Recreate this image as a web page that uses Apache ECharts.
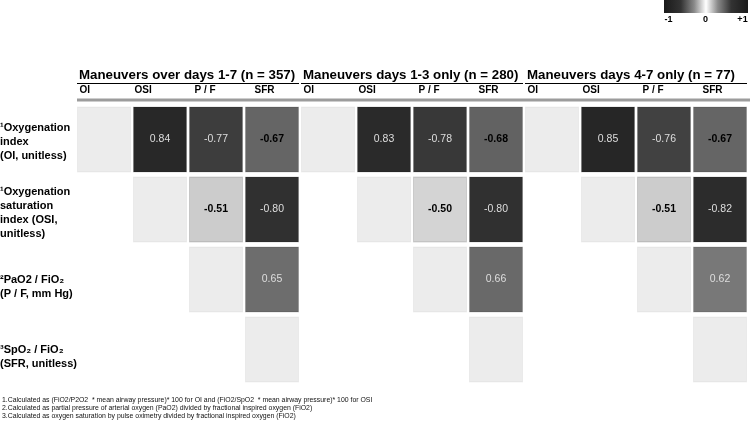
<!DOCTYPE html>
<html>
<head>
<meta charset="utf-8">
<script src="https://cdn.jsdelivr.net/npm/echarts@6/dist/echarts.min.js"></script>
<style>
html,body{margin:0;padding:0;background:#fff;}
#chart{width:750px;height:424px;}
</style>
</head>
<body>
<div id="chart"></div>
<script>
// ---- data ----
const groups = ['Maneuvers over days 1-7 (n = 357)', 'Maneuvers days 1-3 only (n = 280)', 'Maneuvers days 4-7 only (n = 77)'];
const measures = ['OI', 'OSI', 'P / F', 'SFR'];
const rowLabels = [
  '¹Oxygenation\nindex\n(OI, unitless)',
  '¹Oxygenation\nsaturation\nindex (OSI,\nunitless)',
  '²PaO2 / FiO₂\n(P / F, mm Hg)',
  '³SpO₂ / FiO₂\n(SFR, unitless)'
];
// [row, column, correlation]
const corrDays1to7 = [[0, 1, 0.84], [0, 2, -0.77], [0, 3, -0.67], [1, 2, -0.51], [1, 3, -0.80], [2, 3, 0.65]];
const corrDays1to3 = [[0, 1, 0.83], [0, 2, -0.78], [0, 3, -0.68], [1, 2, -0.50], [1, 3, -0.80], [2, 3, 0.66]];
const corrDays4to7 = [[0, 1, 0.85], [0, 2, -0.76], [0, 3, -0.67], [1, 2, -0.51], [1, 3, -0.82], [2, 3, 0.62]];
const legendTicks = ['-1', '0', '+1'];
const footnotes = [
  '1.Calculated as (FiO2/P2O2  * mean airway pressure)* 100 for OI and (FiO2/SpO2  * mean airway pressure)* 100 for OSI',
  '2.Calculated as partial pressure of arterial oxygen (PaO2) divided by fractional inspired oxygen (FiO2)',
  '3.Calculated as oxygen saturation by pulse oximetry divided by fractional inspired oxygen (FiO2)'
];

// ---- build ----
const FONT = "'Liberation Sans', Arial, sans-serif";
const groupData = [corrDays1to7, corrDays1to3, corrDays4to7];
const xCats = [];
groups.forEach((g, gi) => measures.forEach(m => xCats.push(gi + '|' + m)));

const corrItems = [];
groupData.forEach((arr, gi) => {
  arr.forEach(([r, c, v]) => {
    const dark = !(v < 0 && v > -0.7);
    corrItems.push({
      value: [gi * measures.length + c, r, v],
      label: dark ? { color: '#dedede', fontWeight: 'normal' } : { color: '#000', fontWeight: 'bold' }
    });
  });
});
const diagItems = [];
groups.forEach((g, gi) => measures.forEach((m, i) => diagItems.push([gi * measures.length + i, i])));

// grayscale ramp, -1 .. +1 in steps of 0.1
const half = ['#141414', '#1c1c1c', '#303030', '#5a5a5a', '#808080', '#d4d4d4', '#e2e2e2', '#e8e8e8', '#ececec', '#eeeeee'];
const ramp = half.concat(['#f0f0f0']).concat(half.slice().reverse());

const chart = echarts.init(document.getElementById('chart'), null, { renderer: 'canvas' });
const option = {
  backgroundColor: '#fff',
  animation: false,
  textStyle: { fontFamily: FONT },
  grid: { left: 76, top: 104.5, width: 672, height: 280, containLabel: false, outerBoundsMode: 'none' },
  xAxis: { type: 'category', data: xCats, show: false },
  yAxis: {
    type: 'category', data: rowLabels, inverse: true, show: false
  },
  visualMap: {
    show: false, type: 'continuous', min: -1, max: 1, dimension: 2, seriesIndex: 0,
    inRange: { color: ramp }
  },
  series: [
    {
      type: 'scatter', data: corrItems, symbol: 'rect', symbolSize: [53, 65],
      itemStyle: { opacity: 1, borderColor: 'rgba(0,0,0,0.15)', borderWidth: 1 },
      label: { show: true, position: 'inside', fontFamily: FONT, fontSize: 10.5,
        formatter: p => p.value[2].toFixed(2) },
      z: 3
    },
    {
      type: 'scatter', data: diagItems, symbol: 'rect', symbolSize: [53, 65],
      itemStyle: { color: '#ececec', opacity: 1, borderColor: 'rgba(0,0,0,0.05)', borderWidth: 1 },
      z: 2
    }
  ]
};
chart.setOption(option);

// ---- headers, row labels, legend, footnotes ----
const graphics = [];
const band = 672 / xCats.length;
const labelShift = [2, 1, 5, 9];
groups.forEach((g, gi) => {
  const firstX = chart.convertToPixel({ xAxisIndex: 0 }, gi * measures.length) - band / 2;
  const lastX = chart.convertToPixel({ xAxisIndex: 0 }, (gi + 1) * measures.length - 1) + band / 2;
  graphics.push({ type: 'text', left: firstX + 3, top: 69,
    style: { text: g, font: 'bold 13.3px ' + FONT, fill: '#000' } });
  graphics.push({ type: 'line', shape: { x1: firstX + 1, y1: 83.5, x2: Math.min(lastX - 1, 750), y2: 83.5 },
    style: { stroke: '#000', lineWidth: 1 } });
  measures.forEach((m, i) => {
    const cx = chart.convertToPixel({ xAxisIndex: 0 }, gi * measures.length + i) - band / 2 + 1.5;
    graphics.push({ type: 'text', left: cx + labelShift[i], top: 85,
      style: { text: m, font: 'bold 10px ' + FONT, fill: '#000' } });
  });
});
graphics.push({ type: 'rect', shape: { x: 77, y: 98.5, width: 673, height: 3 }, style: { fill: '#9c9c9c' } });

// row labels (positioned from the y axis scale)
const rowShift = [2.5, 3.5, 7, 7];
rowLabels.forEach((t, i) => {
  const cy = chart.convertToPixel({ yAxisIndex: 0 }, i);
  graphics.push({ type: 'text', x: 0, y: cy + rowShift[i],
    style: { text: t, font: 'bold 11px ' + FONT, fill: '#000', lineHeight: 14, verticalAlign: 'middle', align: 'left' } });
});

// colour scale legend
graphics.push({ type: 'rect', shape: { x: 664, y: 0, width: 84, height: 13 },
  style: { fill: new echarts.graphic.LinearGradient(0, 0, 1, 0, [
    { offset: 0, color: '#1a1a1a' }, { offset: 0.2, color: '#333' }, { offset: 0.36, color: '#8a8a8a' },
    { offset: 0.5, color: '#ffffff' }, { offset: 0.64, color: '#8a8a8a' }, { offset: 0.8, color: '#333' },
    { offset: 1, color: '#1a1a1a' }]) } });
const tickX = [668.5, 705.5, 742.5];
legendTicks.forEach((t, i) => graphics.push({ type: 'text', x: tickX[i], y: 20,
  style: { text: t, font: 'bold 9px ' + FONT, fill: '#000', align: 'center', verticalAlign: 'middle' } }));

// footnotes
footnotes.forEach((f, i) => graphics.push({ type: 'text', x: 2, y: 400 + i * 7.8,
  style: { text: f, font: '6.9px ' + FONT, fill: '#111', verticalAlign: 'middle' } }));

chart.setOption({ graphic: graphics });
</script>
</body>
</html>
